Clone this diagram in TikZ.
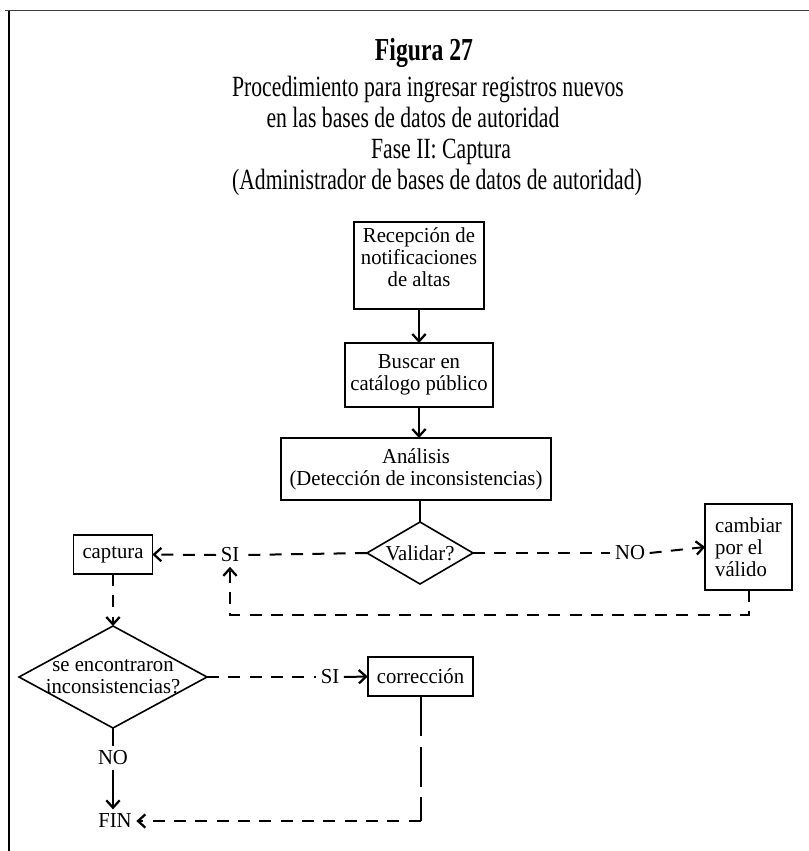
\documentclass[tikz,border=0pt]{standalone}
\usepackage{fontspec}
\setmainfont{Liberation Serif}
\newfontfamily\titlefont{Liberation Serif}[FakeStretch=0.74]
\newfontfamily\boxfont{Liberation Serif}[FakeStretch=0.97]
\usetikzlibrary{shapes.geometric,arrows.meta}

\begin{document}
\begin{tikzpicture}[x=0.75pt,y=-0.75pt,
  every node/.style={inner sep=0pt, outer sep=0pt},
  headline/.style={font={\titlefont\fontsize{22pt}{24pt}\selectfont}, anchor=base},
  boxtext/.style={font={\boxfont\fontsize{16pt}{16.5pt}\selectfont}, align=center},
  procbox/.style={boxtext, draw, line width=1.1pt},
  decision/.style={draw, diamond, line width=1.2pt},
  flowlabel/.style={boxtext, inner sep=3.5pt},
  conn/.style={line width=1.5pt},
  dashconn/.style={conn, dash pattern=on 9pt off 7pt},
  longdash/.style={conn, dash pattern=on 30pt off 8pt},
  arr/.style={-{Straight Barb[length=5.5pt,width=10pt,line width=1.7pt]}}
]
\useasboundingbox (0,0) rectangle (809,851);

% frame edges
\draw[line width=1pt] (9,851) -- (9,10);
\draw[line width=0.7pt, black!75] (5,10) -- (809,10);

% heading
\node[font={\titlefont\bfseries\fontsize{24pt}{26pt}\selectfont}, anchor=base] (fig) at (424,60) {Figura 27};
\node[headline] (t1) at (428,96) {Procedimiento para ingresar registros nuevos};
\node[headline] (t2) at (413,127) {en las bases de datos de autoridad};
\node[headline] (t3) at (441,158) {Fase II: Captura};
\node[headline] (t4) at (437,189) {(Administrador de bases de datos de autoridad)};

% main column
\node[procbox, minimum width=97.5pt, minimum height=65pt] (recep) at (419,265.5) {Recepción de\\notificaciones\\de altas\\[-4pt]\mbox{}};
\node[procbox, minimum width=111pt, minimum height=48pt] (buscar) at (419,375) {Buscar en\\catálogo público};
\node[procbox, minimum width=202.5pt, minimum height=46.5pt] (anal) at (416,469) {Análisis\\(Detección de inconsistencias)};
\node[decision, minimum width=79.5pt, minimum height=46.5pt] (valid) at (420,553) {};
\node[boxtext] (validtxt) at (valid) {Validar?};

% branches of the first decision
\node[procbox, minimum width=59pt, minimum height=29pt] (capt) at (113,554.5) {captura};
\node[procbox, minimum width=65pt, minimum height=64.5pt, align=left] (camb) at (748.5,547) {cambiar\\por el\\válido};
\node[flowlabel] (si1) at (230,555) {SI};
\node[flowlabel] (no1) at (630,553) {NO};

% second decision
\node[decision, minimum width=141pt, minimum height=76.5pt] (enc) at (113,677) {};
\node[boxtext] (enctxt) at (enc) {se encontraron\\inconsistencias?};
\node[procbox, minimum width=79pt, minimum height=29pt] (corr) at (420.5,676.5) {corrección};
\node[flowlabel] (si2) at (330,677) {SI};
\node[flowlabel] (no2) at (113,758) {NO};
\node[flowlabel] (fin) at (115,821) {FIN};
\coordinate (corner) at (corr.south |- fin.east);

% connectors
\draw[conn, arr] (recep.south) -- (recep.south |- buscar.north);
\draw[conn, arr] (buscar.south) -- (buscar.south |- anal.north);
\draw[conn] (valid.north |- anal.south) -- (valid.north);
\draw[dashconn] (valid.west) -- (si1.east);
\draw[dashconn, arr] (si1.west) -- (capt.east);
\draw[dashconn] (valid.east) -- (no1.west);
\draw[dashconn, arr] (no1.east) -- (camb.west);
\draw[dashconn, arr] (camb.south) -- ++(0,25) -| (si1.south);
\draw[dashconn, arr] (capt.south) -- (enc.north);
\draw[dashconn] (enc.east) -- (si2.west);
\draw[conn, arr] (si2.east) -- (corr.west);
\draw[conn] (enc.south) -- (no2.north);
\draw[conn, arr] (no2.south) -- (no2.south |- fin.north);
\draw[longdash] (corr.south) -- (corner);
\draw[dashconn, arr] (corner) -- (fin.east);
\end{tikzpicture}
\end{document}
